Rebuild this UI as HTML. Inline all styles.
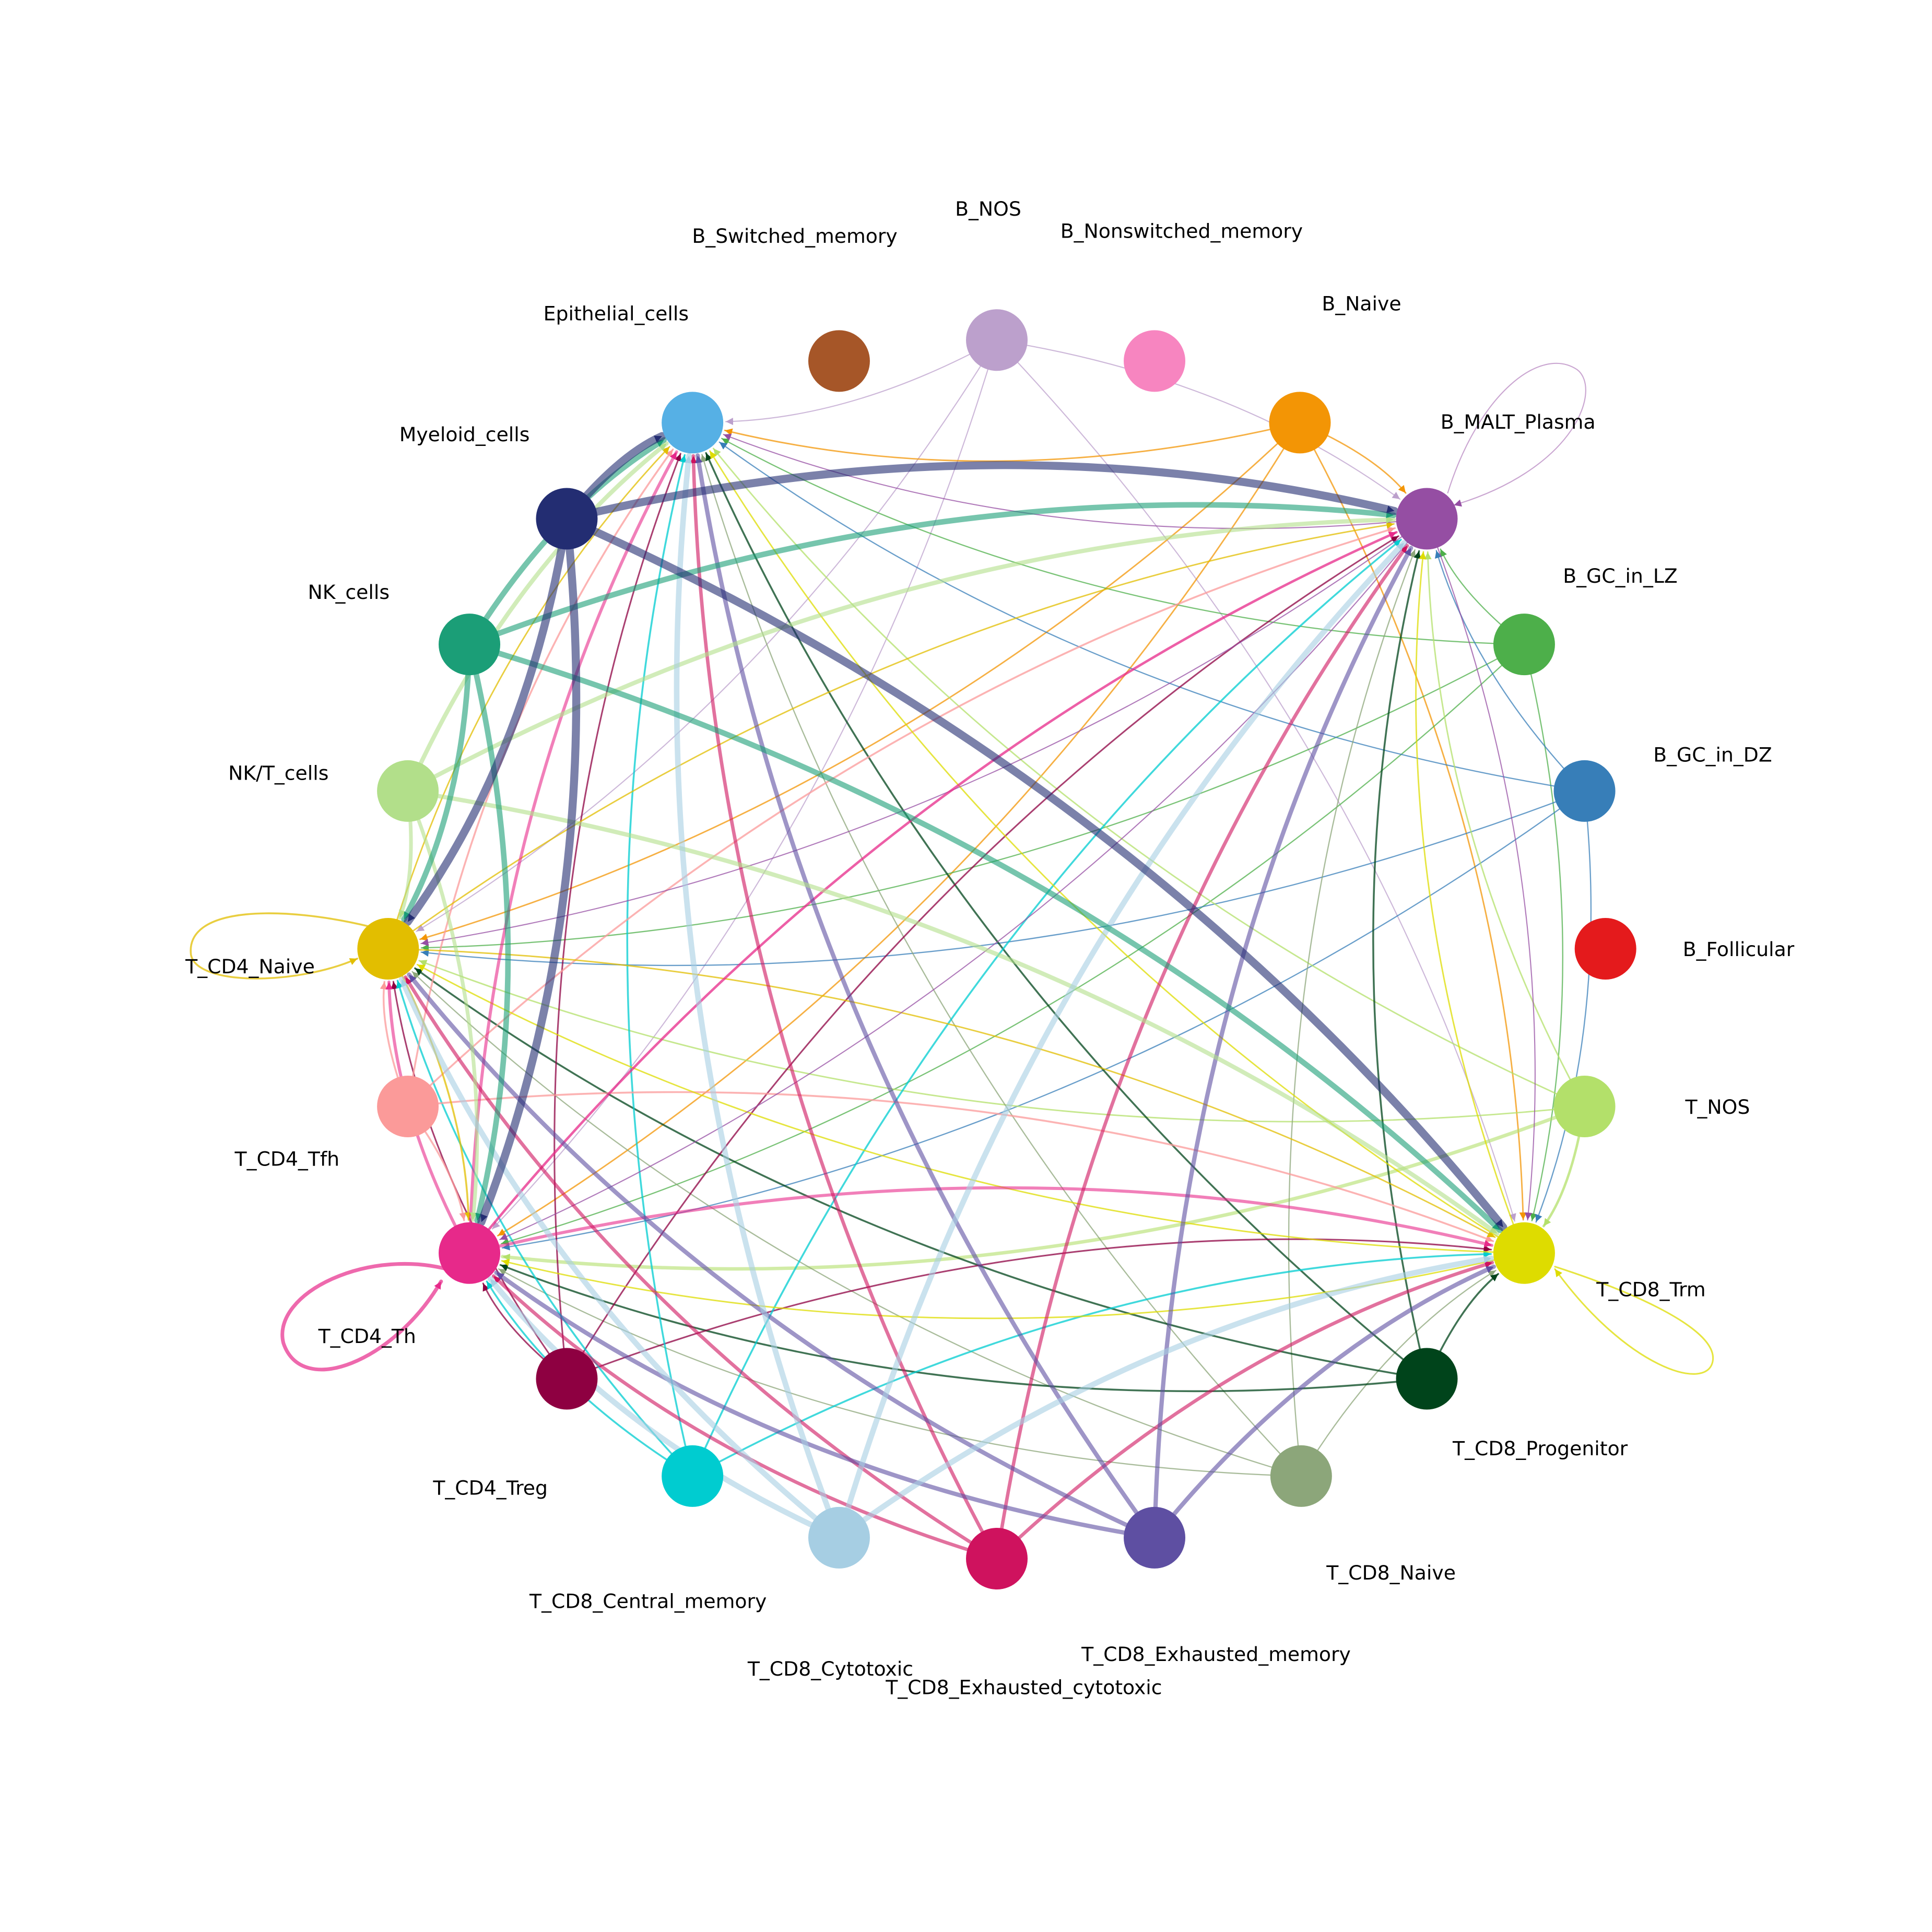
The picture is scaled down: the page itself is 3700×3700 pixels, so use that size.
<!DOCTYPE html>
<html><head><meta charset="utf-8"><style>
html,body{margin:0;padding:0;background:#fff;}
svg{display:block;}
text{font-family:"DejaVu Sans","Liberation Sans",sans-serif;font-size:16px;fill:#000;}
</style></head><body>
<svg id="s" width="3700" height="3700" viewBox="0 0 1568 1568" xmlns="http://www.w3.org/2000/svg">
<defs></defs>
<g id="edges"></g>
<g id="nodes"></g>
<g id="labels">
<text x="802" y="175" text-anchor="middle">B_NOS</text>
<text x="645" y="197" text-anchor="middle">B_Switched_memory</text>
<text x="959" y="193" text-anchor="middle">B_Nonswitched_memory</text>
<text x="500" y="260" text-anchor="middle">Epithelial_cells</text>
<text x="1105" y="252" text-anchor="middle">B_Naive</text>
<text x="377" y="358" text-anchor="middle">Myeloid_cells</text>
<text x="1232" y="348" text-anchor="middle">B_MALT_Plasma</text>
<text x="283" y="486" text-anchor="middle">NK_cells</text>
<text x="1315" y="473" text-anchor="middle">B_GC_in_LZ</text>
<text x="226" y="633" text-anchor="middle">NK/T_cells</text>
<text x="1390" y="618" text-anchor="middle">B_GC_in_DZ</text>
<text x="203" y="790" text-anchor="middle">T_CD4_Naive</text>
<text x="1411" y="776" text-anchor="middle">B_Follicular</text>
<text x="233" y="946" text-anchor="middle">T_CD4_Tfh</text>
<text x="1394" y="904" text-anchor="middle">T_NOS</text>
<text x="298" y="1090" text-anchor="middle">T_CD4_Th</text>
<text x="1340" y="1052" text-anchor="middle">T_CD8_Trm</text>
<text x="398" y="1213" text-anchor="middle">T_CD4_Treg</text>
<text x="1250" y="1181" text-anchor="middle">T_CD8_Progenitor</text>
<text x="526" y="1305" text-anchor="middle">T_CD8_Central_memory</text>
<text x="1129" y="1282" text-anchor="middle">T_CD8_Naive</text>
<text x="674" y="1360" text-anchor="middle">T_CD8_Cytotoxic</text>
<text x="987" y="1348" text-anchor="middle">T_CD8_Exhausted_memory</text>
<text x="831" y="1375" text-anchor="middle">T_CD8_Exhausted_cytotoxic</text>
</g>
</svg>
<script>
var N={
BNOS:[809,276,'#bca0cc'],BNSM:[937,293,'#f785c0'],BNaive:[1055,343,'#f39505'],MALT:[1158,421,'#954ea3'],
LZ:[1237,523,'#4daf4a'],DZ:[1286,642,'#377eb8'],Fol:[1303,770,'#e41a1c'],TNOS:[1286,898,'#b3e06a'],
Trm:[1237,1017,'#dedc00'],Prog:[1158,1119,'#00441b'],C8N:[1056,1198,'#8ca67a'],ExM:[937,1248,'#5e4fa2'],
ExC:[809,1265,'#cf125e'],Cyt:[681,1248,'#a6cee3'],CM:[562,1198,'#00ccd0'],Treg:[460,1119,'#8e0041'],
Th:[381,1017,'#e7298a'],Tfh:[331,898,'#fb9a99'],C4N:[315,770,'#e2be00'],NKT:[331,642,'#b2df8a'],
NK:[381,523,'#1b9e77'],Mye:[460,421,'#232d72'],Epi:[562,343,'#56b0e5'],BSM:[681,293,'#a65628']};
var T=['Epi','MALT','C4N','Th','Trm'];
var W={Mye:6.5,NK:4.5,NKT:3.5,Cyt:4.5,ExM:3.5,ExC:2.8,Th:2.5,CM:1.5,Treg:1.3,Prog:1.5,C8N:1,TNOS:1.2,Tfh:1.5,C4N:1.2,Trm:1.2,LZ:1,DZ:1,BNaive:1.2,BNOS:0.9,MALT:0.9};
var special={'TNOS>Th':2.8,'TNOS>Trm':2,'NKT>C4N':3,'NKT>Th':3,'Th>MALT':2,'C4N>Th':1.5};
var sv='http://www.w3.org/2000/svg',E=document.getElementById('edges'),D=document.querySelector('defs');
var made={};
function marker(c){if(made[c])return 'm'+c.slice(1);var m=document.createElementNS(sv,'marker');m.setAttribute('id','m'+c.slice(1));m.setAttribute('viewBox','0 0 10 10');m.setAttribute('refX','10');m.setAttribute('refY','5');m.setAttribute('markerWidth','6');m.setAttribute('markerHeight','6');m.setAttribute('markerUnits','userSpaceOnUse');m.setAttribute('orient','auto');var p=document.createElementNS(sv,'path');p.setAttribute('d','M0,0 L10,5 L0,10 z');p.setAttribute('fill',c);m.appendChild(p);D.appendChild(m);made[c]=1;return 'm'+c.slice(1);}
function path(d,c,w,op){var p=document.createElementNS(sv,'path');p.setAttribute('d',d);p.setAttribute('fill','none');p.setAttribute('stroke',c);p.setAttribute('stroke-width',w);p.setAttribute('stroke-opacity',op);p.setAttribute('stroke-linecap','round');p.setAttribute('marker-end','url(#'+marker(c)+')');E.appendChild(p);}
var order=['BNOS','BNaive','LZ','DZ','TNOS','C8N','Prog','Treg','CM','Tfh','C4N','Trm','MALT','Th','ExC','ExM','NKT','Cyt','NK','Mye'];
order.forEach(function(s){var a=N[s];T.forEach(function(t){if(t===s)return;var b=N[t];
var dx=b[0]-a[0],dy=b[1]-a[1];var cx=(a[0]+b[0])/2+0.12*dy,cy=(a[1]+b[1])/2-0.12*dx;
var ex=b[0]-cx,ey=b[1]-cy,L=Math.hypot(ex,ey);var x2=b[0]-ex/L*27,y2=b[1]-ey/L*27;
var w=special[s+'>'+t]||W[s]||1;var op=w>2?0.6:0.75;
path('M'+a[0]+','+a[1]+' Q'+cx+','+cy+' '+x2+','+y2,a[2],w,op);});});
path('M300,752 C230,735 150,735 155,775 C160,800 240,800 290,778','#e2be00',1.5,0.75);
path('M370,1032 C300,1010 220,1050 230,1090 C245,1135 320,1105 358,1040','#e7298a',3,0.7);
path('M1262,1028 C1330,1050 1395,1080 1390,1105 C1385,1130 1320,1110 1262,1030','#dedc00',1.3,0.75);
path('M1175,400 C1200,320 1250,280 1280,300 C1300,315 1280,380 1180,410','#954ea3',0.9,0.5);
var G=document.getElementById('nodes');
for(var k in N){var c=document.createElementNS(sv,'circle');c.setAttribute('cx',N[k][0]);c.setAttribute('cy',N[k][1]);c.setAttribute('r',25);c.setAttribute('fill',N[k][2]);G.appendChild(c);}
</script>
</body></html>
